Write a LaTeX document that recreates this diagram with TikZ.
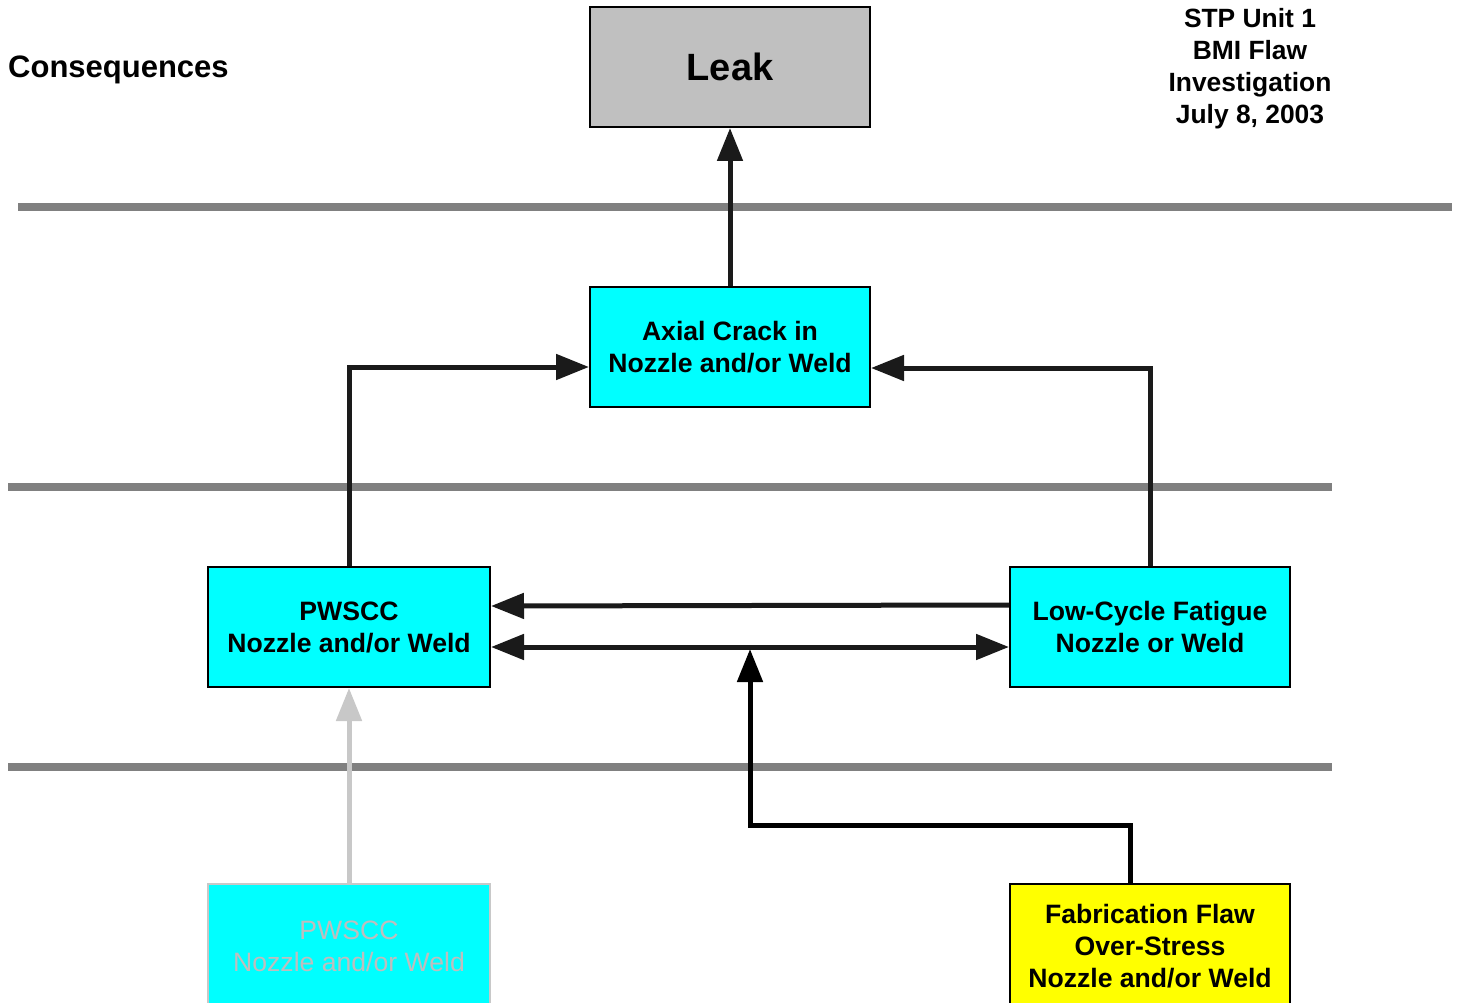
\documentclass[tikz,border=0pt]{standalone}
\usepackage{fontspec}
\setmainfont{Liberation Sans}
\usetikzlibrary{arrows.meta}
\definecolor{boxcyan}{HTML}{00FFFF}
\definecolor{boxyellow}{HTML}{FFFF00}
\definecolor{leakgray}{HTML}{C0C0C0}
\definecolor{bandgray}{HTML}{808080}
\definecolor{linkblack}{HTML}{1A1A1A}
\definecolor{faded}{HTML}{C8C8C8}
\definecolor{fadedtext}{HTML}{BEBEBE}
\tikzset{
  x=1pt, y=1pt,
  box/.style={draw=black, line width=2pt, rectangle, minimum width=280pt, minimum height=120pt,
    inner sep=0pt, align=center, font=\fontsize{26.6}{32}\selectfont\bfseries},
  band/.style={draw=bandgray, line width=8pt},
  link/.style={draw=linkblack, line width=5pt, -{Triangle[length=33pt,width=25pt]}},
  linkboth/.style={draw=linkblack, line width=5pt, {Triangle[length=33pt,width=25pt]}-{Triangle[length=33pt,width=25pt]}},
  label/.style={font=\fontsize{26.4}{32}\selectfont\bfseries, align=center, inner sep=0pt}
}
\begin{document}
\begin{tikzpicture}
\useasboundingbox[fill=white] (0,0) rectangle (1460,-1003);

% level separators
\draw[band] (18,-207) -- (1452,-207);
\draw[band] (8,-487) -- (1332,-487);
\draw[band] (8,-767) -- (1332,-767);

% headings
\node[label, font=\fontsize{31}{36}\selectfont\bfseries, anchor=west] (cons) at (8,-70) {Consequences};
\node[label] (title) at (1250,-69) {STP Unit 1\\BMI Flaw\\Investigation\\July 8, 2003};

% boxes
\node[box, fill=leakgray, font=\fontsize{38}{44}\selectfont\bfseries] (leak) at (730,-67) {Leak};
\node[box, fill=boxcyan] (ax) at (730,-347) {Axial Crack in\\Nozzle and/or Weld};
\node[box, fill=boxcyan, minimum width=282pt] (pw) at (349,-627) {PWSCC\\Nozzle and/or Weld};
\node[box, fill=boxcyan] (lc) at (1150,-627) {Low-Cycle Fatigue\\Nozzle or Weld};
\node[box, fill=boxcyan, minimum width=282pt, minimum height=124pt, draw=faded,
      text=fadedtext, font=\fontsize{26.6}{32}\selectfont] (fp) at (349,-946) {PWSCC\\Nozzle and/or Weld};
\node[box, fill=boxyellow, minimum height=124pt] (fb) at (1150,-946) {Fabrication Flaw\\Over-Stress\\Nozzle and/or Weld};

% junction points
\coordinate (bend) at (750,-825);
\coordinate (hit) at (750,-649);

% connectors
\draw[link] (ax.north) -- (leak.south);
\draw[link] (pw.north) |- ([yshift=-20pt]ax.west);
\draw[link] (lc.north) |- ([yshift=-21pt]ax.east);
\draw[link] ([yshift=22pt]lc.west) -- ([yshift=21pt]pw.east);
\draw[linkboth] ([yshift=-20pt]pw.east) -- ([yshift=-20pt]lc.west);
\draw[link, draw=black] ([xshift=-20pt]fb.north) |- (bend) -- (hit);
\draw[link, draw=faded] (fp.north) -- (pw.south);
\end{tikzpicture}
\end{document}
